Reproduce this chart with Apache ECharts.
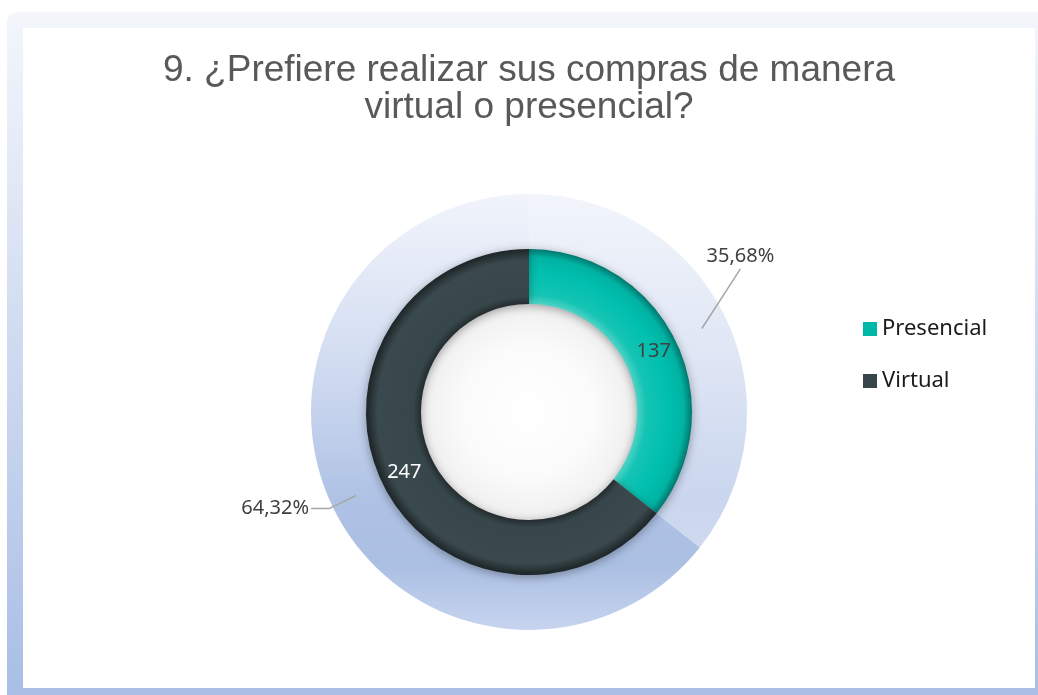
<!DOCTYPE html>
<html>
<head>
<meta charset="utf-8">
<script src="https://cdn.jsdelivr.net/npm/echarts@6/dist/echarts.min.js"></script>
<style>
html, body { margin: 0; padding: 0; background: #fff; }
#frame { position: absolute; left: 7px; top: 12px; width: 1031px; height: 683px;
  background: linear-gradient(#f4f6fc, #a9bee5); border-top-left-radius: 10px; }
#chart { position: absolute; left: 23px; top: 28px; width: 1012px; height: 660px; background: #fff; }
</style>
</head>
<body>
<div id="frame"></div>
<div id="chart"></div>
<script>
var categories = ['Presencial', 'Virtual'];
var values = [137, 247];
var legendColors = ['#00b8a8', '#37464a'];
var innerLabelColors = ['#404040', '#ffffff'];

// layout (chart coords)
var CX = 506, CY = 384;
var R_HOLE = 108, R_RING = 163, R_OUTER = 218, R_LABEL = 192;
var LIFT = 40;

var radial = function(r, stops) {
	return { type: 'radial', x: CX, y: CY, r: r, global: true,
		colorStops: stops.map(function(s) { return { offset: s[0], color: s[1] }; }) };
};
var vertical = function(stops) {
	return { type: 'linear', x: 0, y: CY - R_OUTER, x2: 0, y2: CY + R_OUTER, global: true,
		colorStops: stops.map(function(s) { return { offset: s[0], color: s[1] }; }) };
};

var innerFills = [
	radial(R_RING, [[0.66, '#52d3c7'], [0.72, '#14c4b4'], [0.86, '#00bfae'], [0.95, '#00b3a3'], [1, '#00776d']]),
	radial(R_RING, [[0.66, '#222b2e'], [0.71, '#37464a'], [0.93, '#3a494d'], [1, '#1c2426']])
];
var outerFills = [
	vertical([[0, '#f2f5fb'], [0.35, '#e0e7f5'], [0.7, '#cad6ee'], [1, '#d6e0f3']]),
	vertical([[0, '#f1f4fb'], [0.35, '#d5dff2'], [0.7, '#afc2e5'], [0.85, '#abbfe3'], [1, '#c7d4ef']])
];
var holeFill = radial(R_HOLE, [[0, '#ffffff'], [0.6, '#fbfbfb'], [1, '#efefef']]);

var total = values.reduce(function(a, b) { return a + b; }, 0);

var byId = function(id) {
	return document.getElementById(id);
};
var chart = echarts.init(byId('chart'));

var option = {
	title: {
		text: '9. ¿Prefiere realizar sus compras de manera\nvirtual o presencial?',
		left: 'center',
		top: 19,
		textStyle: {
			fontFamily: 'Liberation Sans',
			fontSize: 37,
			fontWeight: 'normal',
			lineHeight: 37,
			color: '#595959'
		}
	},
	legend: {
		orient: 'vertical',
		left: 835,
		top: 283,
		icon: 'rect',
		itemWidth: 14,
		itemHeight: 14,
		itemGap: 26,
		selectedMode: false,
		textStyle: {
			fontFamily: 'Noto Sans',
			fontSize: 22,
			lineHeight: 26,
			color: '#1a1a1a'
		},
		data: categories.map(function(c, i) {
			return { name: c, itemStyle: { color: legendColors[i] } };
		})
	},
	series: [{
		// light outer ring
		type: 'pie',
		z: 1,
		silent: true,
		center: [CX, CY],
		radius: [R_RING - 3, R_OUTER],
		label: { show: false },
		labelLine: { show: false },
		itemStyle: { borderWidth: 0 },
		data: categories.map(function(c, i) {
			return { name: c, value: values[i], itemStyle: { color: outerFills[i] } };
		})
	}, {
		// percentage labels
		type: 'pie',
		z: 3,
		silent: true,
		center: [CX, CY],
		radius: [R_RING - 10, R_LABEL],
		itemStyle: { color: 'rgba(0,0,0,0)' },
		label: {
			show: true,
			position: 'outside',
			fontFamily: 'Noto Sans',
			fontSize: 20,
			color: '#404040',
			distanceToLabelLine: 2,
			formatter: function(p) {
				return p.percent.toFixed(2).replace('.', ',') + '%';
			}
		},
		labelLine: {
			show: true,
			length: 45,
			length2: 0,
			lineStyle: { color: '#a6a6a6', width: 1.5 }
		},
		labelLayout: function(p) {
			var pts = p.labelLinePoints;
			if (!pts || pts[1][0] < CX) return {};
			var end = [pts[1][0] - 2, pts[1][1] - LIFT];
			return {
				x: end[0],
				y: end[1] - 3,
				align: 'center',
				verticalAlign: 'bottom',
				labelLinePoints: [pts[0], end, end]
			};
		},
		data: categories.map(function(c, i) {
			return { name: c, value: values[i],
				labelLine: i == 0 ? { length: 45, length2: 0 } : { length: 30, length2: 18 } };
		})
	}, {
		// centre
		type: 'pie',
		z: 2,
		silent: true,
		center: [CX, CY],
		radius: [0, R_HOLE],
		label: { show: false },
		labelLine: { show: false },
		data: [{ name: '', value: total, itemStyle: { color: holeFill } }]
	}, {
		// main ring
		type: 'pie',
		z: 2,
		silent: true,
		center: [CX, CY],
		radius: [R_HOLE, R_RING],
		itemStyle: {
			borderWidth: 0,
			shadowBlur: 10,
			shadowOffsetY: 2,
			shadowColor: 'rgba(0,0,0,0.35)'
		},
		label: {
			show: true,
			position: 'inside',
			fontFamily: 'Noto Sans',
			fontSize: 20,
			formatter: '{c}'
		},
		labelLine: { show: false },
		data: categories.map(function(c, i) {
			return { name: c, value: values[i], itemStyle: { color: innerFills[i] },
				label: { color: innerLabelColors[i] } };
		})
	}]
};
chart.setOption(option);
</script>
</body>
</html>
